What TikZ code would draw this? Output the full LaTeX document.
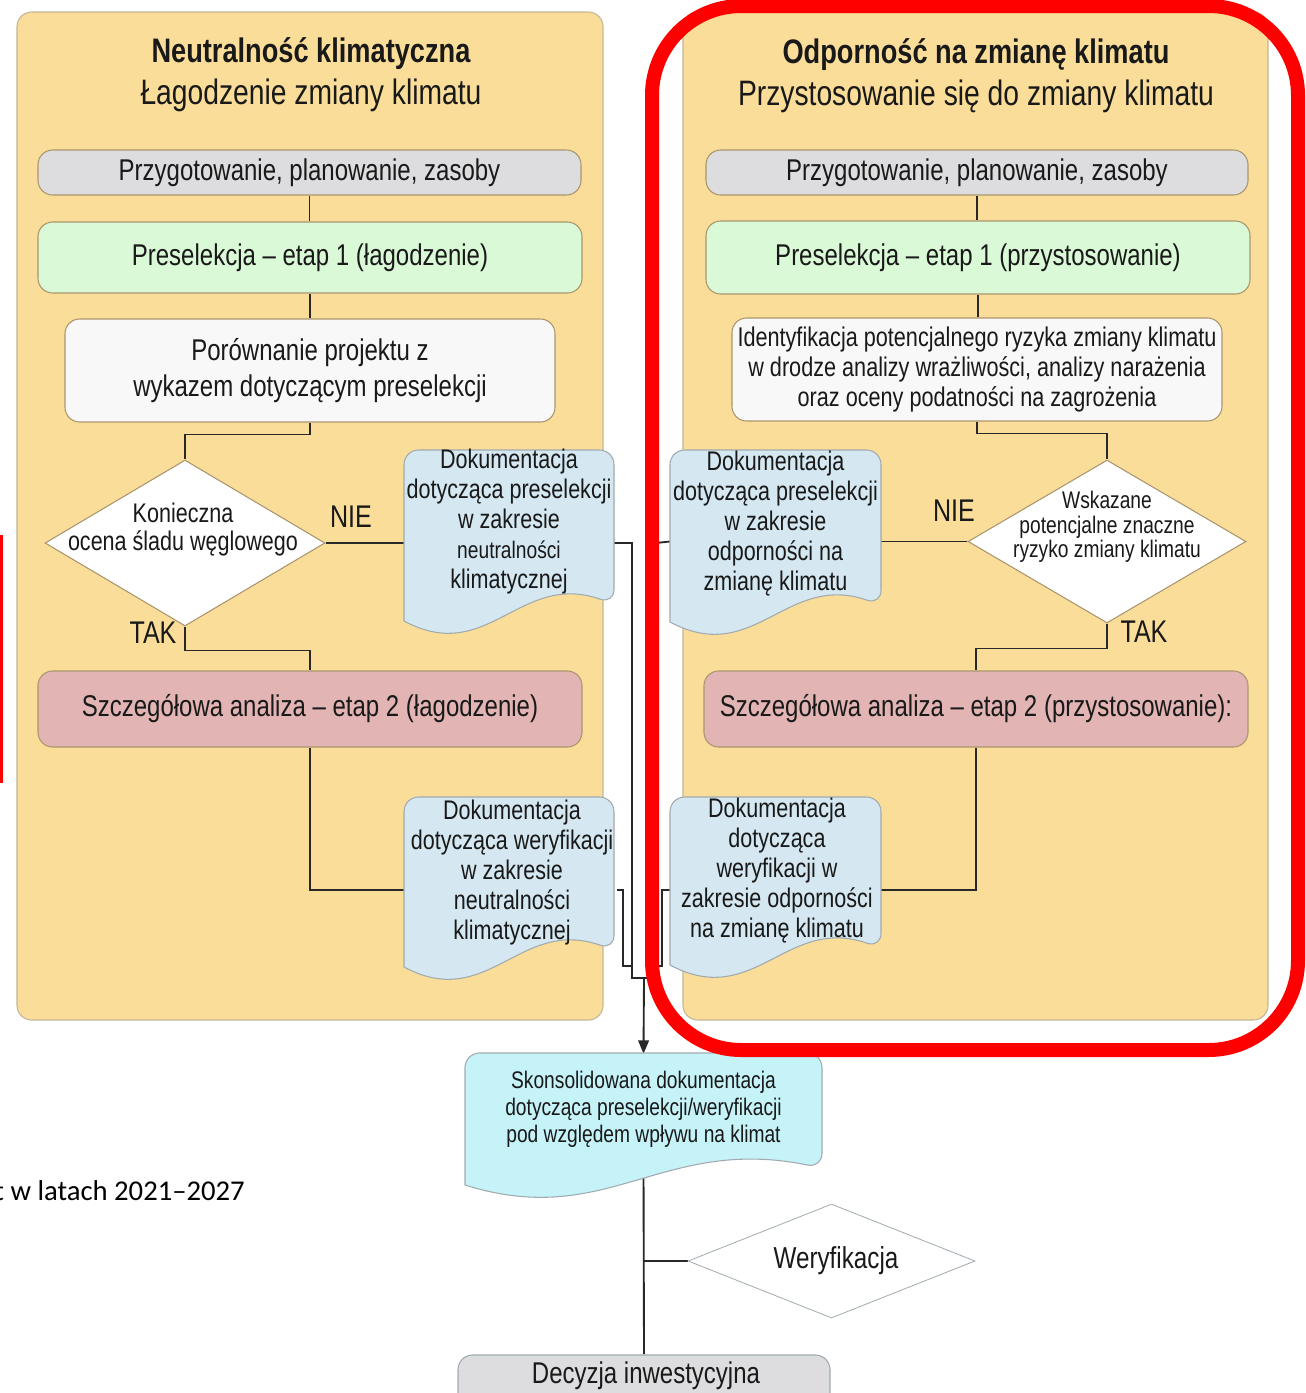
\documentclass[tikz,border=0pt]{standalone}
\usepackage{fontspec}
\setmainfont{Liberation Sans}[FakeStretch=0.8]
\newfontfamily\calib{Carlito}
\usetikzlibrary{shapes.geometric,arrows.meta}
\definecolor{panelfill}{RGB}{250,221,152}
\definecolor{panelb}{RGB}{195,182,150}
\definecolor{grayf}{RGB}{221,221,223}
\definecolor{greenf}{RGB}{218,249,214}
\definecolor{pinkf}{RGB}{226,180,180}
\definecolor{whitef}{RGB}{248,248,248}
\definecolor{docf}{RGB}{213,232,242}
\definecolor{cdocf}{RGB}{198,243,248}
\definecolor{boxb}{RGB}{170,150,110}
\definecolor{docb}{RGB}{160,170,175}
\definecolor{linec}{RGB}{40,40,40}
\definecolor{textc}{RGB}{25,25,25}
\pgfdeclarelayer{panels}
\pgfdeclarelayer{lines}
\pgfdeclarelayer{front}
\pgfsetlayers{panels,lines,main,front}
\newcommand\docshape[5]{%
  \draw[draw=docb, line width=0.8pt, fill=#1, rounded corners=11pt]
    (#2,#5) -- (#2,#3) -- (#4,#3) -- (#4,{#5-17})
    [sharp corners] .. controls ({#2+0.55*(#4-#2)},{#5-50}) and ({#2+0.4*(#4-#2)},{#5+45}) .. cycle;}
\tikzset{
  conn/.style={draw=linec, line width=1.4pt},
  sz/.style 2 args={minimum width={#1*0.75pt}, minimum height={#2*0.75pt}},
  bx/.style={draw=boxb, line width=0.8pt, rounded corners=11pt, inner sep=0pt, align=center, text=textc},
  txt/.style={inner sep=0pt, align=center, text=textc},
  dia/.style={diamond, draw=boxb, fill=white, line width=0.8pt, inner sep=0pt},
  panel/.style={draw=panelb, fill=panelfill, line width=0.8pt, rounded corners=11pt},
  ttl/.style={txt, font=\fontsize{25.5}{30}\selectfont\bfseries},
  sub/.style={txt, font=\fontsize{26.5}{30}\selectfont},
  bfont/.style={font=\fontsize{22.5}{27}\selectfont},
  docfont/.style={txt, font=\fontsize{20.2}{22.5}\selectfont},
  yn/.style={txt, font=\fontsize{23.5}{27}\selectfont}
}
\begin{document}
\begin{tikzpicture}[x=0.75pt,y=-0.75pt]
\useasboundingbox (0,0) rectangle (1306,1393);
\begin{pgfonlayer}{panels}
  \path[panel] (17,12) rectangle (603,1020);
  \path[panel] (683,12) rectangle (1268,1020);
\end{pgfonlayer}

% ---------------- left column
\node[ttl] (Lt1) at (311,54) {Neutralność klimatyczna};
\node[sub] (Lt2) at (311,95) {Łagodzenie zmiany klimatu};
\node[bx, bfont, fill=grayf, sz={543}{45}] (Lprep) at (309.5,172.5) {Przygotowanie, planowanie, zasoby};
\node[bx, bfont, fill=greenf, sz={544}{71}] (Lpre) at (310,257.5) {Preselekcja -- etap 1 (łagodzenie)};
\node[bx, fill=whitef, sz={490}{103}, font=\fontsize{22.5}{27}\selectfont] (Lcmp) at (310,370.5) {Porównanie projektu z\\wykazem dotyczącym preselekcji};
\node[dia, sz={280}{166}] (Ldia) at (185,543) {};
\node[txt, font=\fontsize{20.2}{21}\selectfont] (Ldiat) at (183,530) {Konieczna\\ocena śladu węglowego};
\node[yn] (Lnie) at (351,517) {NIE};
\node[yn] (Ltak) at (153,633) {TAK};
\node[bx, bfont, fill=pinkf, sz={544}{76}] (Lana) at (310,709) {Szczegółowa analiza -- etap 2 (łagodzenie)};
\docshape{docf}{404}{450}{614}{621}
\node[docfont, sz={210}{140}] (Ldoc1) at (509,522) {Dokumentacja\\dotycząca preselekcji\\w zakresie\\{\fontsize{18}{22.5}\selectfont neutralności}\\klimatycznej};
\docshape{docf}{404}{797}{614}{967}
\node[docfont, sz={210}{150}] (Ldoc2) at (512,873) {Dokumentacja\\dotycząca weryfikacji\\w zakresie\\neutralności\\klimatycznej};
\coordinate (Lin2) at (404,890);

% ---------------- right column
\node[ttl] (Rt1) at (976,55) {Odporność na zmianę klimatu};
\node[sub] (Rt2) at (976,96) {Przystosowanie się do zmiany klimatu};
\node[bx, bfont, fill=grayf, sz={542}{45}] (Rprep) at (977,172.5) {Przygotowanie, planowanie, zasoby};
\node[bx, bfont, fill=greenf, sz={544}{73}] (Rpre) at (978,257.5) {Preselekcja -- etap 1 (przystosowanie)};
\node[bx, fill=whitef, sz={490}{103}, font=\fontsize{20.3}{22.5}\selectfont] (Ridn) at (977,369.5) {Identyfikacja potencjalnego ryzyka zmiany klimatu\\w drodze analizy wrażliwości, analizy narażenia\\oraz oceny podatności na zagrożenia};
\node[dia, sz={278}{163}] (Rdia) at (1107,541.5) {};
\node[txt, font=\fontsize{18}{18.4}\selectfont] (Rdiat) at (1107,527) {Wskazane\\potencjalne znaczne\\ryzyko zmiany klimatu};
\node[yn] (Rnie) at (954,511) {NIE};
\node[yn] (Rtak) at (1144,632) {TAK};
\node[bx, bfont, fill=pinkf, sz={544}{76}] (Rana) at (976,709) {Szczegółowa analiza -- etap 2 (przystosowanie):};
\docshape{docf}{670}{450}{881}{622}
\node[docfont, sz={211}{140}] (Rdoc1) at (775.5,524) {Dokumentacja\\dotycząca preselekcji\\w zakresie\\odporności na\\zmianę klimatu};
\docshape{docf}{670}{797}{881}{965}
\node[docfont, sz={211}{150}] (Rdoc2) at (777,871) {Dokumentacja\\dotycząca\\weryfikacji w\\zakresie odporności\\na zmianę klimatu};
\coordinate (Rin2) at (881,890);

% ---------------- bottom
\docshape{cdocf}{465}{1053}{822}{1185}
\node[txt, sz={357}{110}, font=\fontsize{18}{20.2}\selectfont] (Cdoc) at (643.5,1109) {Skonsolidowana dokumentacja\\dotycząca preselekcji/weryfikacji\\pod względem wpływu na klimat};
\node[diamond, draw=docb, fill=white, line width=0.6pt, inner sep=0pt, sz={287}{114}] (Ver) at (831.5,1261) {};
\node[txt, font=\fontsize{22.7}{25}\selectfont] (Vert) at (836,1261) {Weryfikacja};
\node[bx, fill=grayf, draw=docb, sz={372}{56}] (Dec) at (644,1383) {};
\node[txt, font=\fontsize{22.5}{25}\selectfont] (Dect) at (646,1376) {Decyzja inwestycyjna};
\node[inner sep=0pt, anchor=base east, font=\calib\fontsize{21.5}{24}\selectfont] (foot) at (245,1200) {t w latach 2021–2027};
\coordinate (M) at (644,978);

% ---------------- connectors
\begin{pgfonlayer}{lines}
  \draw[conn] (Lprep.south) -- (Lprep.south |- Lpre.north);
  \draw[conn] (Lpre.south) -- (Lpre.south |- Lcmp.north);
  \draw[conn] (Lcmp.south) -- ++(0,12) -| (Ldia.north);
  \draw[conn] (Ldia.east) -- (Ldia.east -| Ldoc1.west);
  \draw[conn] (Ldia.south) -- ++(0,24) -| (Lana.north);
  \draw[conn] (Lana.south) |- (Lin2);
  \draw[conn] (Ldoc1.east |- Ldia.east) -- (632,543) -- (632,978) -- (M);
  \draw[conn] (Ldoc2.east |- Lin2) -- (623,890) -- (623,966) -- (632,966);

  \draw[conn] (Rprep.south) -- (Rprep.south |- Rpre.north);
  \draw[conn] (Rpre.south) -- (Rpre.south |- Ridn.north);
  \draw[conn] (Ridn.south) -- ++(0,12) -| (Rdia.north);
  \draw[conn] (Rdia.west) -- (Rdia.west -| Rdoc1.east);
  \draw[conn] (Rdia.south) -- ++(0,25) -| (Rana.north);
  \draw[conn] (Rana.south) |- (Rin2);
  \draw[conn] (Rdoc1.west |- Rdia.west) -- (656,543) -- (656,978) -- (M);
  \draw[conn] (Rdoc2.west |- Rin2) -- (662,890) -- (662,966) -- (656,966);

  \draw[conn, -{Triangle[length=10pt,width=8pt]}] (M) -- (Cdoc.north);
  \draw[conn] (Cdoc.south) -- (Dec.north);
  \draw[conn] (Ver.west) -- (Ver.west -| Dec.north);
\end{pgfonlayer}

\begin{pgfonlayer}{front}
  \draw[red, line width=10.5pt, rounded corners=67pt] (652,6) rectangle (1298,1050);
  \draw[red, line width=2.5pt] (1,535) -- (1,783);
\end{pgfonlayer}
\end{tikzpicture}
\end{document}
